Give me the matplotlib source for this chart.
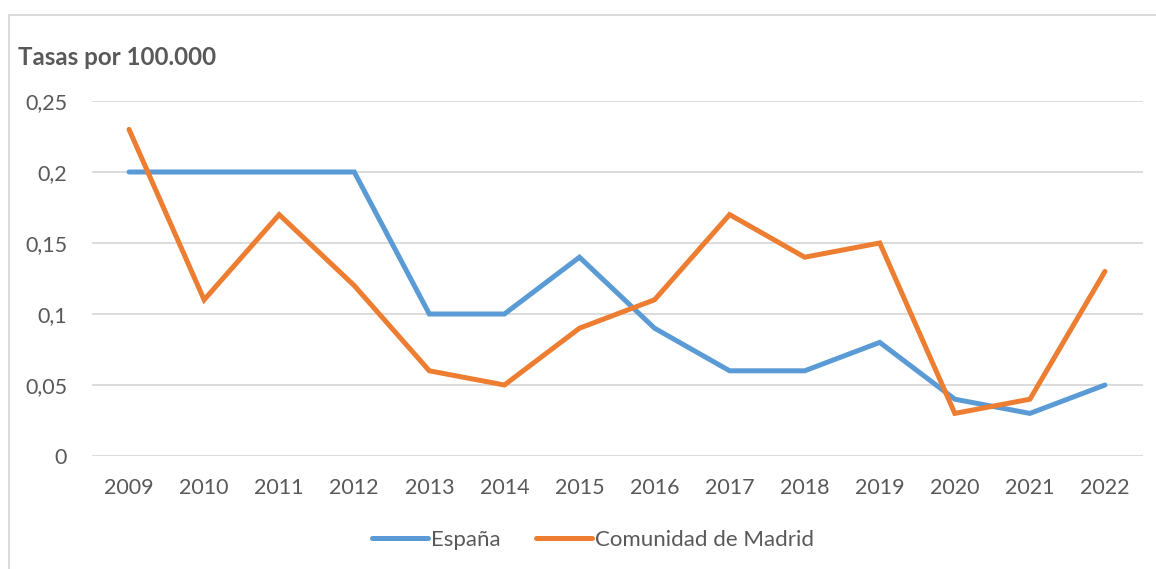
import matplotlib
matplotlib.use("Agg")
import matplotlib.pyplot as plt
from matplotlib.lines import Line2D

years = ["2009", "2010", "2011", "2012", "2013", "2014", "2015",
         "2016", "2017", "2018", "2019", "2020", "2021", "2022"]
espana = [0.20, 0.20, 0.20, 0.20, 0.10, 0.10, 0.14, 0.09, 0.06, 0.06, 0.08, 0.04, 0.03, 0.05]
madrid = [0.23, 0.11, 0.17, 0.12, 0.06, 0.05, 0.09, 0.11, 0.17, 0.14, 0.15, 0.03, 0.04, 0.13]
yticks = [0, 0.05, 0.10, 0.15, 0.20, 0.25]
ytick_labels = ["0", "0,05", "0,1", "0,15", "0,2", "0,25"]

W, H = 1156, 569
fig = plt.figure(figsize=(W / 100, H / 100), dpi=100)
plt.rcParams['font.family'] = ['Lato', 'DejaVu Sans']
TXT = "#595959"
BLUE = "#5B9BD5"
ORANGE = "#ED7D31"
GRID = "#D9D9D9"
LW = 3.6

left, right = 91.5 / W, 1142.5 / W
bottom, top = 1 - 456 / H, 1 - 101 / H
ax = fig.add_axes([left, bottom, right - left, top - bottom])

x = list(range(len(years)))
ax.plot(x, espana, color=BLUE, lw=LW, solid_capstyle='round', solid_joinstyle='miter', zorder=3)
ax.plot(x, madrid, color=ORANGE, lw=LW, solid_capstyle='round', solid_joinstyle='miter', zorder=4)

ax.set_xlim(-0.5, len(years) - 0.5)
ax.set_ylim(0, 0.25)
ax.set_yticks(yticks)
ax.set_yticklabels(ytick_labels)
ax.set_xticks(x)
ax.set_xticklabels(years)
for s in ax.spines.values():
    s.set_visible(False)
ax.grid(axis='y', color=GRID, lw=1.3)
ax.set_axisbelow(True)
ax.tick_params(axis='both', length=0, labelsize=15.5, labelcolor=TXT)
ax.tick_params(axis='y', pad=17.5)
ax.tick_params(axis='x', pad=16)
for lbl in ax.get_yticklabels():
    lbl.set_horizontalalignment('right')

fig.text(18 / W, 1 - 57 / H, "Tasas por 100.000", fontsize=17.4, fontweight='bold',
         color=TXT, ha='left', va='center')

handles = [Line2D([], [], color=BLUE, lw=LW, solid_capstyle='round'),
           Line2D([], [], color=ORANGE, lw=LW, solid_capstyle='round')]
fig.legend(handles, ["España", "Comunidad de Madrid"], loc='center',
           bbox_to_anchor=(593 / W, 1 - 540 / H), ncol=2, frameon=False,
           fontsize=16, labelcolor=TXT, handlelength=2.5, handletextpad=0.15,
           columnspacing=1.6)

# outer chart-area border (left and top visible)
fig.add_artist(Line2D([9 / W, 9 / W], [0, 1 - 15 / H], color=GRID, lw=1.3, transform=fig.transFigure))
fig.add_artist(Line2D([9 / W, 1], [1 - 15 / H, 1 - 15 / H], color=GRID, lw=1.3, transform=fig.transFigure))

fig.savefig("out.png", dpi=100)
